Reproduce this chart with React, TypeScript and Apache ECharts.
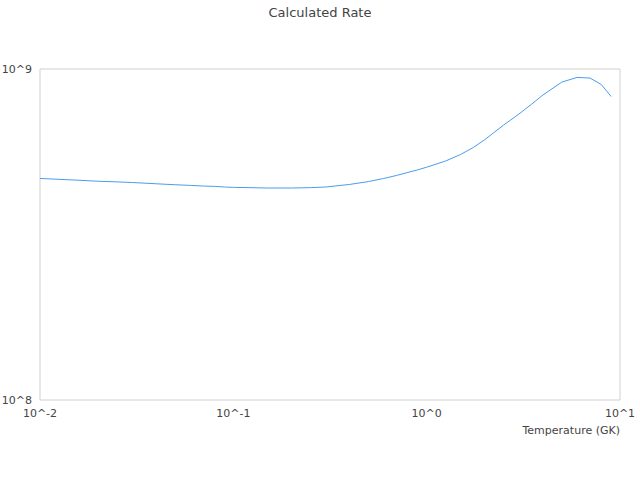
import React, { useEffect, useRef } from "react";
import * as echarts from "echarts";

const temperatures = [
  0.01, 0.015, 0.02, 0.025, 0.03, 0.04, 0.05, 0.06, 0.07, 0.08, 0.09, 0.1,
  0.15, 0.2, 0.25, 0.3, 0.4, 0.5, 0.6, 0.7, 0.8, 0.9, 1, 1.25, 1.5, 1.75, 2,
  2.5, 3, 3.5, 4, 5, 6, 7, 8, 9,
];
const rates = [
  4.67e8, 4.62e8, 4.58e8, 4.56e8, 4.54e8, 4.5e8, 4.47e8, 4.45e8, 4.43e8,
  4.42e8, 4.4e8, 4.39e8, 4.37e8, 4.37e8, 4.38e8, 4.4e8, 4.48e8, 4.57e8,
  4.67e8, 4.77e8, 4.87e8, 4.96e8, 5.05e8, 5.27e8, 5.52e8, 5.8e8, 6.12e8,
  6.77e8, 7.31e8, 7.84e8, 8.35e8, 9.13e8, 9.43e8, 9.39e8, 8.98e8, 8.26e8,
];

const FONT = "DejaVu Sans";
const TEXT = "#444";

export default function App() {
  const ref = useRef<HTMLDivElement>(null);
  useEffect(() => {
    document.body.style.margin = "0";
    if (!ref.current) return;
    const chart = echarts.init(ref.current, undefined, { renderer: "svg" });
    const fmt = (v: number) => "10^" + Math.round(Math.log10(v));
    chart.setOption({
      animation: false,
      title: {
        text: "Calculated Rate",
        left: "center",
        top: 1,
        textStyle: { fontFamily: FONT, fontSize: 13, fontWeight: "normal", color: TEXT },
      },
      grid: {
        left: 40,
        right: 20,
        top: 69,
        bottom: 80,
        containLabel: false,
        outerBoundsMode: "none",
        show: true,
        borderColor: "#d0d0d0",
        borderWidth: 1,
      },
      xAxis: {
        type: "log",
        logBase: 10,
        min: 0.01,
        max: 10,
        name: "Temperature (GK)",
        nameLocation: "end",
        nameGap: 0,
        nameTextStyle: {
          fontFamily: FONT,
          fontSize: 11,
          color: TEXT,
          align: "right",
          verticalAlign: "top",
          padding: [25, 0, 0, 0],
        },
        axisLine: { show: false },
        axisTick: { show: false },
        splitLine: { show: false },
        axisLabel: { formatter: fmt, fontFamily: FONT, fontSize: 11, color: TEXT, margin: 8 },
      },
      yAxis: {
        type: "log",
        logBase: 10,
        min: 1e8,
        max: 1e9,
        axisLine: { show: false },
        axisTick: { show: false },
        splitLine: { show: false },
        axisLabel: { formatter: fmt, fontFamily: FONT, fontSize: 11, color: TEXT, margin: 8 },
      },
      series: [
        {
          type: "line",
          data: temperatures.map((t, i) => [t, rates[i]]),
          showSymbol: false,
          lineStyle: { color: "#4a9cec", width: 1 },
        },
      ],
    });
    return () => chart.dispose();
  }, []);
  return <div ref={ref} style={{ width: 640, height: 480 }} />;
}
